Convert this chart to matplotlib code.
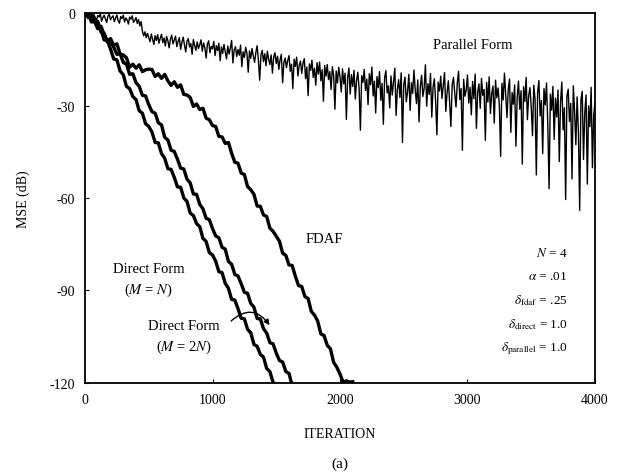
import numpy as np
import matplotlib
matplotlib.use("Agg")
import matplotlib.pyplot as plt

plt.rcParams["font.family"] = ["Liberation Serif", "DejaVu Serif"]
plt.rcParams["mathtext.fontset"] = "stix"
plt.rcParams["axes.unicode_minus"] = False

# Learning curves: MSE in dB versus iteration
parallel_step = 10
parallel_mse = [
    0.0, -0.6, -1.8, -0.9, -0.3, -2.1, -1.2, -0.5, -1.6, -2.4,
    -0.8, -1.3, -0.2, -2.7, -1.5, -0.7, -1.9, -3.1, -1.0, -0.4,
    -2.2, -1.4, -0.9, -2.8, -1.7, -0.6, -2.5, -3.3, -1.1, -1.8,
    -0.7, -2.9, -1.6, -2.2, -3.6, -1.3, -2.0, -0.9, -3.0, -2.4,
    -1.5, -3.4, -2.1, -4.2, -2.8, -5.9, -7.4, -6.1, -8.0, -6.6,
    -7.9, -9.3, -6.8, -8.5, -10.2, -7.3, -8.9, -7.0, -9.8, -8.2,
    -6.9, -9.6, -8.1, -10.7, -7.6, -9.0, -11.3, -8.4, -7.2, -10.0,
    -8.8, -7.5, -10.9, -9.2, -8.0, -11.8, -9.5, -7.8, -10.4, -12.6,
    -9.1, -8.3, -11.0, -9.9, -13.4, -8.6, -10.6, -12.1, -9.4, -11.5,
    -10.3, -8.7, -12.4, -9.7, -11.2, -14.6, -10.1, -9.0, -12.9, -10.8,
    -11.6, -9.2, -13.8, -10.6, -12.2, -9.8, -15.5, -11.0, -13.1, -10.2,
    -12.5, -14.9, -10.7, -13.3, -11.4, -8.9, -16.2, -12.0, -10.9, -14.1,
    -11.8, -13.7, -10.4, -17.4, -12.6, -14.4, -11.1, -13.0, -19.2, -12.3,
    -14.7, -11.5, -13.9, -16.0, -12.8, -10.6, -15.3, -21.8, -13.5, -12.1,
    -15.8, -13.2, -17.1, -12.4, -14.9, -16.7, -13.6, -19.5, -14.2, -12.9,
    -16.4, -14.0, -18.3, -15.1, -13.4, -22.6, -16.0, -14.6, -17.7, -15.4,
    -13.8, -18.9, -16.6, -24.5, -15.0, -17.3, -14.3, -20.4, -16.9, -15.6,
    -19.6, -16.2, -14.8, -21.3, -17.5, -26.8, -16.5, -18.6, -15.3, -20.9,
    -17.9, -23.4, -16.1, -19.8, -15.9, -22.0, -18.4, -28.6, -17.0, -20.5,
    -16.7, -21.6, -19.0, -24.8, -17.4, -20.1, -31.2, -18.8, -22.7, -17.6,
    -20.7, -25.6, -18.1, -23.0, -19.5, -34.5, -21.1, -17.8, -26.3, -20.0,
    -23.8, -18.6, -27.9, -21.9, -19.2, -24.6, -38.0, -20.3, -22.5, -18.3,
    -25.1, -21.4, -29.7, -19.7, -23.3, -17.5, -26.9, -22.1, -32.4, -20.6,
    -24.2, -19.0, -28.3, -22.8, -36.1, -21.0, -18.7, -25.9, -23.6, -30.8,
    -20.4, -26.6, -22.3, -17.9, -33.2, -24.7, -21.6, -27.4, -19.4, -42.0,
    -23.1, -20.8, -28.8, -25.5, -19.9, -31.6, -22.6, -26.1, -18.5, -24.9,
    -29.4, -21.7, -35.3, -23.9, -20.2, -27.1, -24.4, -16.8, -30.2, -22.9,
    -26.4, -19.6, -33.8, -24.0, -21.3, -28.5, -39.5, -22.4, -25.3, -20.5,
    -27.7, -23.5, -19.3, -31.9, -25.7, -22.0, -29.0, -36.8, -23.2, -20.9,
    -26.0, -30.5, -22.7, -18.9, -28.1, -24.5, -44.5, -21.5, -27.0, -25.0,
    -20.1, -29.2, -24.1, -33.0, -22.2, -27.8, -19.8, -37.4, -25.6, -23.0,
    -30.9, -21.2, -26.7, -24.8, -41.3, -22.5, -28.9, -20.7, -32.6, -26.2,
    -23.7, -35.7, -21.8, -27.5, -24.3, -30.0, -46.5, -22.8, -28.2, -19.5,
    -26.5, -33.9, -24.6, -21.4, -38.7, -25.8, -29.6, -23.3, -43.2, -27.3,
    -22.1, -31.2, -25.2, -49.0, -23.9, -28.7, -20.9, -34.6, -26.8, -24.2,
    -30.4, -39.8, -23.4, -27.9, -52.5, -25.9, -21.9, -33.4, -28.4, -45.6,
    -24.5, -29.8, -22.7, -36.5, -57.0, -26.3, -31.5, -23.8, -41.0, -27.6,
    -33.7, -25.0, -48.2, -28.8, -22.4, -37.9, -30.7, -60.5, -26.9, -24.7,
    -35.2, -29.3, -53.8, -23.6, -31.9, -42.7, -27.2, -38.4, -64.0, -28.1,
    -25.4, -47.5, -32.3, -26.6, -55.5, -30.1, -36.9, -24.1, -50.2, -33.1,
    -29.0,
]

curve_step = 25
direct_n_mse = [
    0.0, -0.2, -2.4, -1.7, -4.4, -5.4, -8.7, -8.9, -11.7, -14.9,
    -15.2, -18.8, -20.0, -23.8, -24.5, -27.1, -28.1, -31.7, -32.5, -35.9,
    -36.8, -38.6, -42.0, -42.1, -45.6, -47.1, -50.5, -50.7, -53.3, -56.4,
    -56.5, -60.0, -61.1, -64.9, -65.7, -68.3, -69.3, -73.1, -74.1, -77.7,
    -78.5, -80.5, -83.9, -84.2, -87.7, -89.3, -92.9, -93.1, -95.9, -99.0,
    -99.2, -102.6, -103.7, -107.5, -108.1, -110.7, -111.6, -115.3, -116.3, -119.8,
    -120.5,
]
direct_2n_mse = [
    0.0, -1.2, -0.6, -2.8, -2.7, -6.1, -6.6, -9.4, -9.1, -11.1,
    -13.4, -13.2, -16.0, -16.6, -19.9, -19.7, -22.6, -23.8, -26.7, -26.9,
    -29.7, -32.0, -32.5, -35.6, -36.3, -40.3, -41.2, -44.5, -44.9, -47.4,
    -50.3, -50.6, -53.9, -55.1, -58.7, -58.8, -62.1, -63.5, -66.6, -67.0,
    -69.9, -72.3, -72.9, -76.0, -76.6, -80.6, -81.5, -84.8, -85.3, -87.8,
    -90.6, -90.9, -94.2, -95.4, -99.1, -99.2, -102.4, -103.8, -106.9, -107.3,
    -110.3, -112.7, -113.2, -116.3, -116.9, -120.9, -122.0,
]
fdaf_mse = [
    0.0, -0.2, -2.9, -2.8, -5.1, -4.3, -7.0, -9.1, -8.3, -10.5,
    -10.0, -13.3, -13.6, -14.5, -17.6, -16.6, -17.9, -16.8, -19.0, -18.4,
    -18.2, -18.3, -20.6, -19.7, -21.2, -19.9, -22.0, -23.5, -22.3, -24.1,
    -23.3, -26.4, -26.6, -27.4, -30.3, -29.5, -31.3, -30.9, -34.1, -34.6,
    -36.5, -36.8, -40.0, -40.2, -42.3, -42.0, -45.5, -48.4, -48.7, -51.9,
    -52.4, -56.3, -57.3, -58.8, -62.6, -62.7, -65.5, -66.0, -69.8, -70.8,
    -72.4, -74.0, -77.9, -78.6, -81.7, -81.9, -85.4, -88.4, -88.7, -92.0,
    -92.6, -96.8, -98.0, -99.9, -104.1, -104.6, -107.8, -108.9, -113.3, -114.9,
    -117.1, -119.8, -119.3, -119.7, -119.6,
]

x_ticks = [0, 1000, 2000, 3000, 4000]
y_ticks = [0, -30, -60, -90, -120]

fig = plt.figure(figsize=(6.17, 4.77), dpi=100)
ax = fig.add_axes([0.1378, 0.195, 0.8265, 0.7756])


def iters(values, step):
    return np.arange(len(values)) * step


ax.plot(iters(parallel_mse, parallel_step), parallel_mse, color="black", lw=1.0)
for series in (direct_n_mse, direct_2n_mse):
    ax.plot(iters(series, curve_step), series, color="black", lw=2.4)
ax.plot(iters(fdaf_mse, curve_step), fdaf_mse, color="black", lw=2.4)

ax.set_xlim(0, 4000)
ax.set_ylim(-120, 0)
ax.set_xticks(x_ticks)
ax.set_yticks(y_ticks)
ax.set_yticklabels([str(v) for v in y_ticks])
ax.tick_params(direction="in", length=3, width=0.8, labelsize=10, pad=7)
for side in ax.spines.values():
    side.set_linewidth(1.3)

ax.set_xlabel("ITERATION", fontsize=10, labelpad=15)
ax.set_ylabel("MSE (dB)", fontsize=10, labelpad=14)
fig.text(0.551, 0.027, "(a)", ha="center", va="center", fontsize=11)

txt = dict(fontsize=10.5, color="black")
ax.text(3043, -10.1, "Parallel Form", ha="center", va="center", **txt)
ax.text(1875, -73, "FDAF", ha="center", va="center", **txt)
ax.text(500, -83, "Direct Form", ha="center", va="center", **txt)
ax.text(500, -89.5, r"($M$ = $N$)", ha="center", va="center", **txt)
ax.text(776, -101.5, "Direct Form", ha="center", va="center", **txt)
ax.text(776, -108, r"($M$ = 2$N$)", ha="center", va="center", **txt)

ax.annotate("", xy=(1460, -102), xytext=(1130, -100.5),
            arrowprops=dict(arrowstyle="-|>", color="black", lw=1.0,
                            mutation_scale=8,
                            connectionstyle="arc3,rad=-0.6"))

params = [
    (r"$N$ = 4", -77.8),
    (r"$\alpha$ = .01", -85.3),
    (r"$\delta_{\rm fdaf}$ = .25", -93.1),
    (r"$\delta_{\rm direct}$ = 1.0", -100.9),
    (r"$\delta_{\rm parallel}$ = 1.0", -108.7),
]
for label, yv in params:
    ax.text(3785, yv, label, ha="right", va="center", fontsize=9.5)

fig.savefig("out.png", dpi=100)
